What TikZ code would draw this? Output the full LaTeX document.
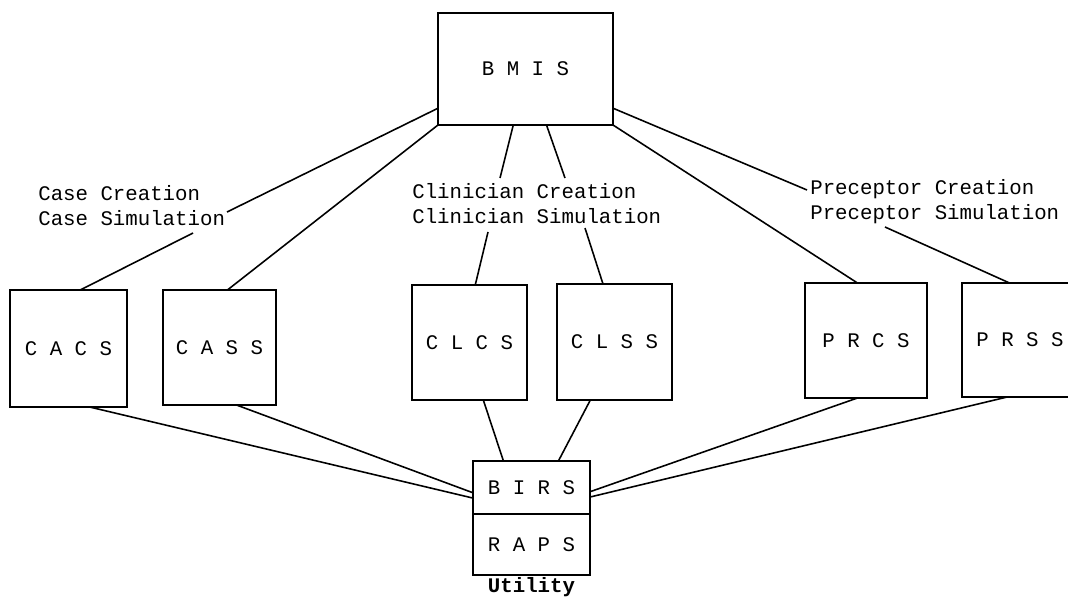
\documentclass[tikz,border=0pt]{standalone}
\usepackage{fontspec}
\setmonofont{Liberation Mono}
\usetikzlibrary{positioning,calc}

\begin{document}
\begin{tikzpicture}[
    x=0.02cm, y=-0.02cm,
    sysbox/.style={rectangle, draw=black, line width=1.4pt, fill=white, align=center, outer sep=0pt},
    lbl/.style={align=left, inner sep=0pt},
    link/.style={line width=0.9pt},
    font=\ttfamily\fontsize{11.8}{14}\selectfont
  ]
    \useasboundingbox (0,0) rectangle (1068,598);

    \node[sysbox, minimum width=3.5cm, minimum height=2.24cm] (bmis) at (525.5,69) {B M I S};

    \node[sysbox, minimum width=2.34cm, minimum height=2.34cm] (cacs) at (68.5,348.5) {C A C S};
    \node[sysbox, minimum width=2.26cm, minimum height=2.3cm] (cass) at (219.5,347.5) {C A S S};
    \node[sysbox, minimum width=2.3cm, minimum height=2.3cm] (clcs) at (469.5,342.5) {C L C S};
    \node[sysbox, minimum width=2.3cm, minimum height=2.32cm] (clss) at (614.5,342) {C L S S};
    \node[sysbox, minimum width=2.44cm, minimum height=2.3cm] (prcs) at (866,340.5) {P R C S};
    \node[sysbox, minimum width=2.32cm, minimum height=2.28cm] (prss) at (1020,340) {P R S S};

    \node[sysbox, minimum width=2.34cm, minimum height=1.06cm] (birs) at (531.5,487.5) {B I R S};
    \node[sysbox, minimum width=2.34cm, minimum height=1.22cm, below=0pt of birs] (raps) {R A P S};
    \node[font=\ttfamily\bfseries\fontsize{11.8}{14}\selectfont, anchor=base, inner sep=0pt] (util) at ($(raps.south)+(0,18)$) {Utility};

    % labels on the links
    \node[lbl, anchor=base west] (caselbl) at (38,225) {Case Creation\\Case Simulation};
    \node[lbl, anchor=base west] (clinlbl) at (412,223) {Clinician Creation\\Clinician Simulation};
    \node[lbl, anchor=base west] (preclbl) at (810,219) {Preceptor Creation\\Preceptor Simulation};

    \coordinate (caseR) at (227,212);
    \coordinate (caseB) at (193,233);
    \coordinate (clinTL) at (500,178);
    \coordinate (clinTR) at (565,178);
    \coordinate (clinBL) at (488,232);
    \coordinate (clinBR) at (585,228);
    \coordinate (precL) at (807,190);
    \coordinate (precB) at (885,227);

    \draw[link] ($(bmis.south west)!0.15!(bmis.north west)$) -- (caseR);
    \draw[link] (caseB) -- ($(cacs.north west)!0.6!(cacs.north east)$);
    \draw[link] (bmis.south west) -- ($(cass.north west)!0.57!(cass.north east)$);
    \draw[link] ($(bmis.south west)!0.43!(bmis.south east)$) -- (clinTL);
    \draw[link] ($(bmis.south west)!0.62!(bmis.south east)$) -- (clinTR);
    \draw[link] (clinBL) -- ($(clcs.north west)!0.55!(clcs.north east)$);
    \draw[link] (clinBR) -- ($(clss.north west)!0.4!(clss.north east)$);
    \draw[link] ($(bmis.south east)!0.15!(bmis.north east)$) -- (precL);
    \draw[link] (bmis.south east) -- ($(prcs.north west)!0.43!(prcs.north east)$);
    \draw[link] (precB) -- ($(prss.north west)!0.41!(prss.north east)$);

    \draw[link] ($(cacs.south west)!0.68!(cacs.south east)$) -- ($(birs.south west)!0.3!(birs.north west)$);
    \draw[link] ($(cass.south west)!0.65!(cass.south east)$) -- ($(birs.south west)!0.4!(birs.north west)$);
    \draw[link] ($(clcs.south west)!0.62!(clcs.south east)$) -- ($(birs.north west)!0.26!(birs.north east)$);
    \draw[link] ($(clss.south west)!0.29!(clss.south east)$) -- ($(birs.north west)!0.73!(birs.north east)$);
    \draw[link] ($(prcs.south west)!0.43!(prcs.south east)$) -- ($(birs.south east)!0.42!(birs.north east)$);
    \draw[link] ($(prss.south west)!0.39!(prss.south east)$) -- ($(birs.south east)!0.32!(birs.north east)$);
  \end{tikzpicture}
\end{document}
